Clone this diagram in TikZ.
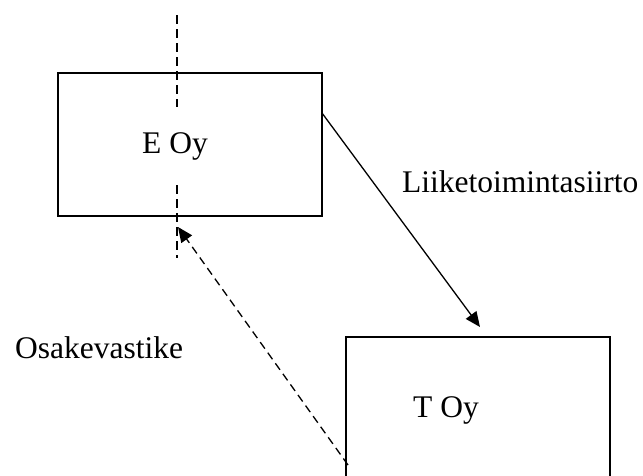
\documentclass[tikz,border=0pt]{standalone}
\usepackage{fontspec}
\setmainfont{Liberation Serif}
\usetikzlibrary{arrows.meta}
\begin{document}
\begin{tikzpicture}[x=1pt,y=-1pt,
  box/.style={draw=black,line width=1.5pt,rectangle,inner sep=0pt,anchor=north west},
  lbl/.style={inner sep=0pt,anchor=base west,font=\fontsize{31.5}{38}\selectfont},
  axisline/.style={line width=1.6pt,dash pattern=on 9pt off 5pt},
  flow/.style={line width=1.3pt,-{Triangle[length=15pt,width=13pt]}},
  flowdash/.style={line width=1.3pt,dash pattern=on 8pt off 5pt,-{Triangle[length=15pt,width=13pt]}}]
\clip (0,0) rectangle (643,475);
\fill[white] (0,0) rectangle (643,475);
\node[box,minimum width=264pt,minimum height=143pt] (eoy) at (57,72) {};
\node[box,minimum width=264pt,minimum height=150pt] (toy) at (345,336) {};
\node[lbl] (eoyt) at (142,153) {E Oy};
\node[lbl] (toyt) at (413,417) {T Oy};
\node[lbl] (liike) at (402,192) {Liiketoimintasiirto};
\node[lbl] (osake) at (15,358) {Osakevastike};
\coordinate (d1) at (177,15);
\coordinate (d2) at (177,107);
\coordinate (d3) at (177,185);
\coordinate (d4) at (177,258);
\draw[axisline] (d1) -- (d2);
\draw[axisline] (d3) -- (d4);
\coordinate (s1) at (322,113);
\coordinate (s2) at (480,327);
\draw[flow] (s1) -- (s2);
\coordinate (t1) at (348,465);
\coordinate (t2) at (178,227);
\draw[flowdash] (t1) -- (t2);
\end{tikzpicture}
\end{document}
